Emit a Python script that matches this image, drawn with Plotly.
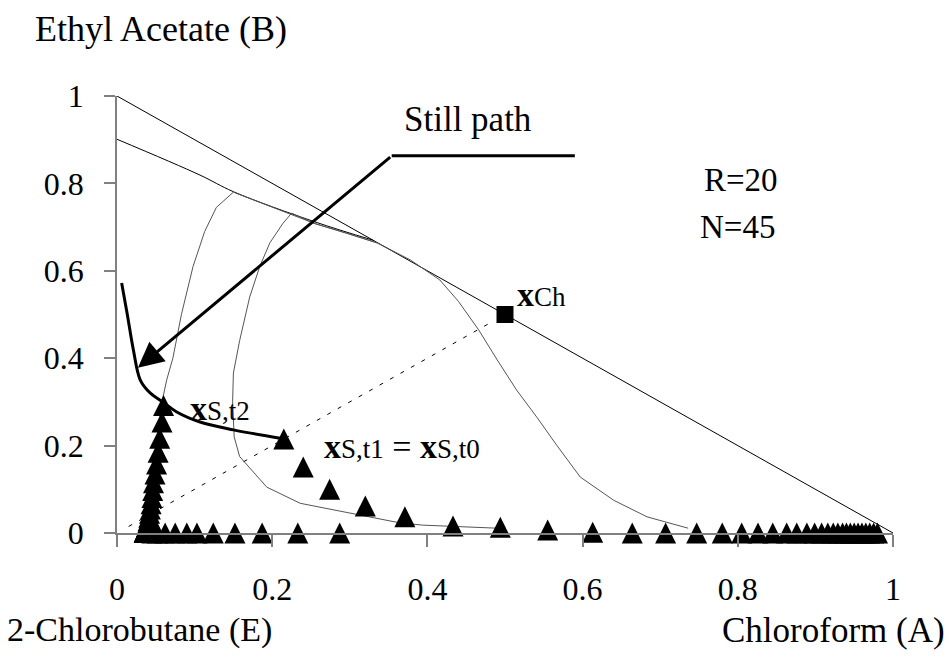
import plotly.graph_objects as go

# ---- tick labels ----
tick_vals = [0, 0.2, 0.4, 0.6, 0.8, 1]
tick_text = ["0", "0.2", "0.4", "0.6", "0.8", "1"]

# ---- composition triangle edge (A-B side) ----
edge_x = [0.0, 1.0]
edge_y = [1.0, 0.0]

# ---- distillation boundary from the B-E azeotrope ----
boundary_x = [0.0, 0.107, 0.150, 0.255, 0.330]
boundary_y = [0.901, 0.819, 0.781, 0.712, 0.670]

# ---- column profile envelopes ----
profile1_x = [0.050, 0.058, 0.064, 0.072, 0.083, 0.098, 0.113, 0.128, 0.150,
              0.200, 0.255, 0.296, 0.335, 0.378, 0.416, 0.440, 0.466, 0.490,
              0.515, 0.541, 0.567, 0.597, 0.640, 0.683, 0.736]
profile1_y = [0.200, 0.300, 0.350, 0.400, 0.500, 0.610, 0.690, 0.745, 0.780,
              0.745, 0.708, 0.686, 0.664, 0.625, 0.579, 0.530, 0.465, 0.396,
              0.327, 0.265, 0.200, 0.128, 0.075, 0.037, 0.011]

profile2_x = [0.490, 0.394, 0.365, 0.300, 0.236, 0.193, 0.158, 0.151, 0.149,
              0.150, 0.158, 0.171, 0.184, 0.197, 0.214, 0.225, 0.255, 0.296, 0.335]
profile2_y = [0.011, 0.018, 0.023, 0.045, 0.068, 0.105, 0.175, 0.220, 0.300,
              0.366, 0.440, 0.540, 0.610, 0.664, 0.709, 0.732, 0.708, 0.686, 0.664]

# ---- still path (thick curve) ----
still_path_x = [0.006, 0.013, 0.021, 0.030, 0.043, 0.059, 0.077, 0.107, 0.150, 0.210]
still_path_y = [0.572, 0.503, 0.420, 0.350, 0.320, 0.300, 0.277, 0.254, 0.236, 0.217]

# ---- mixing line E -> charge ----
mix_x = [0.015, 0.480]
mix_y = [0.015, 0.480]

# ---- charge composition ----
charge_x = [0.5]
charge_y = [0.5]

# ---- still compositions, first period (triangles) ----
still1_x = [0.215, 0.240, 0.274, 0.320, 0.371, 0.433, 0.494, 0.555, 0.613,
            0.664, 0.707, 0.747, 0.780, 0.805, 0.826, 0.845, 0.863, 0.876,
            0.889, 0.899, 0.908, 0.916, 0.923, 0.929, 0.935, 0.940, 0.945,
            0.950, 0.955, 0.960, 0.965, 0.970, 0.975, 0.980]
still1_y = [0.215, 0.151, 0.100, 0.062, 0.037, 0.016, 0.013, 0.007, 0.002,
            0.0, 0.0, 0.0, 0.0, 0.0, 0.0, 0.0, 0.0, 0.0,
            0.0, 0.0, 0.0, 0.0, 0.0, 0.0, 0.0, 0.0, 0.0,
            0.0, 0.0, 0.0, 0.0, 0.0, 0.0, 0.0]

# ---- still compositions, second period (triangles) ----
still2_x = [0.060, 0.058, 0.055, 0.053, 0.051, 0.049, 0.047, 0.046, 0.045,
            0.044, 0.043, 0.042, 0.041, 0.040, 0.039, 0.038, 0.037, 0.036,
            0.035, 0.035, 0.045, 0.052, 0.062, 0.075, 0.090, 0.103, 0.124,
            0.152, 0.187, 0.233, 0.287]
still2_y = [0.292, 0.254, 0.217, 0.185, 0.158, 0.135, 0.115, 0.097, 0.081,
            0.067, 0.055, 0.045, 0.036, 0.028, 0.021, 0.015, 0.010, 0.006,
            0.003, 0.001, 0.0, 0.0, 0.0, 0.0, 0.0, 0.0, 0.0,
            0.0, 0.0, 0.0, 0.0]

# ---- label leader line ----
leader_x = [0.354, 0.590]
leader_y = [0.863, 0.863]
arrow_tip = (0.027, 0.378)

# ---- figure geometry ----
W, H = 949, 661
M_L, M_R, M_T, M_B = 117, 56, 96, 128
PLOT_H = H - M_T - M_B
TRI_PX = 21
# arrow-up symbols hang below their anchor; lift them by half their height
tri_lift = (TRI_PX / 2) / PLOT_H

SERIF = "Liberation Serif"

fig = go.Figure()

fig.add_trace(go.Scatter(x=edge_x, y=edge_y, mode="lines",
                         line=dict(color="black", width=1), hoverinfo="skip"))
fig.add_trace(go.Scatter(x=boundary_x, y=boundary_y, mode="lines",
                         line=dict(color="black", width=1, shape="spline"),
                         hoverinfo="skip"))
fig.add_trace(go.Scatter(x=profile1_x, y=profile1_y, mode="lines",
                         line=dict(color="#555555", width=1), hoverinfo="skip"))
fig.add_trace(go.Scatter(x=profile2_x, y=profile2_y, mode="lines",
                         line=dict(color="#555555", width=1), hoverinfo="skip"))
fig.add_trace(go.Scatter(x=mix_x, y=mix_y, mode="lines",
                         line=dict(color="black", width=1, dash="4px,8px"),
                         hoverinfo="skip"))
fig.add_trace(go.Scatter(x=still_path_x, y=still_path_y, mode="lines",
                         line=dict(color="black", width=3, shape="spline"),
                         hoverinfo="skip"))
fig.add_trace(go.Scatter(x=leader_x, y=leader_y, mode="lines",
                         line=dict(color="black", width=3), hoverinfo="skip"))

for sx, sy in ((still1_x, still1_y), (still2_x, still2_y)):
    fig.add_trace(go.Scatter(
        x=sx, y=[v + tri_lift for v in sy], mode="markers", cliponaxis=False,
        marker=dict(symbol="arrow-up", size=TRI_PX, color="black",
                    line=dict(width=0)),
        hoverinfo="skip"))

fig.add_trace(go.Scatter(x=charge_x, y=charge_y, mode="markers", cliponaxis=False,
                         marker=dict(symbol="square", size=17, color="black"),
                         hoverinfo="skip"))

axis_common = dict(
    range=[0, 1], tickvals=tick_vals, ticktext=tick_text,
    showline=True, linecolor="#808080", linewidth=1.5,
    ticks="outside", tickcolor="#808080", tickwidth=1.5,
    showgrid=False, zeroline=False,
    tickfont=dict(family=SERIF, size=32, color="black"),
)

fig.update_layout(
    width=W, height=H,
    margin=dict(l=M_L, r=M_R, t=M_T, b=M_B),
    paper_bgcolor="white", plot_bgcolor="white",
    showlegend=False,
    xaxis=dict(**axis_common, ticklen=12, ticklabelstandoff=15),
    yaxis=dict(**axis_common, ticklen=11, ticklabelstandoff=14),
)

sub = "font-size:27px"
annots = [
    dict(x=arrow_tip[0], y=arrow_tip[1], ax=leader_x[0], ay=leader_y[0],
         xref="x", yref="y", axref="x", ayref="y", text="",
         showarrow=True, arrowhead=2, arrowsize=1.7, arrowwidth=3,
         arrowcolor="black"),
    dict(x=0.452, y=0.947, xref="x", yref="y", text="Still path",
         showarrow=False, font=dict(size=35)),
    dict(x=0.804, y=0.808, xref="x", yref="y", text="R=20",
         showarrow=False, font=dict(size=33)),
    dict(x=0.800, y=0.700, xref="x", yref="y", text="N=45",
         showarrow=False, font=dict(size=33)),
    dict(x=0.513, y=0.545, xref="x", yref="y", xanchor="left",
         text=f"<b>x</b><span style='{sub}'>Ch</span>",
         showarrow=False, font=dict(size=34)),
    dict(x=0.0915, y=0.286, xref="x", yref="y", xanchor="left",
         text=f"<b>x</b><span style='{sub}'>S,t2</span>",
         showarrow=False, font=dict(size=34)),
    dict(x=0.264, y=0.197, xref="x", yref="y", xanchor="left",
         text=(f"<b>x</b><span style='{sub}'>S,t1</span> = "
               f"<b>x</b><span style='{sub}'>S,t0</span>"),
         showarrow=False, font=dict(size=34)),
    dict(x=-0.108, y=1.153, xref="paper", yref="paper", xanchor="left",
         text="Ethyl Acetate (B)", showarrow=False, font=dict(size=36)),
    dict(x=-0.144, y=-0.222, xref="paper", yref="paper", xanchor="left",
         text="2-Chlorobutane (E)", showarrow=False, font=dict(size=34)),
    dict(x=1.07, y=-0.222, xref="paper", yref="paper", xanchor="right",
         text="Chloroform (A)", showarrow=False, font=dict(size=35)),
]
for a in annots:
    a.setdefault("font", {})
    a["font"].update(family=SERIF, color="black")
    if not a.get("showarrow"):
        a["yanchor"] = "middle"
fig.update_layout(annotations=annots)

fig.write_html("out.html")
